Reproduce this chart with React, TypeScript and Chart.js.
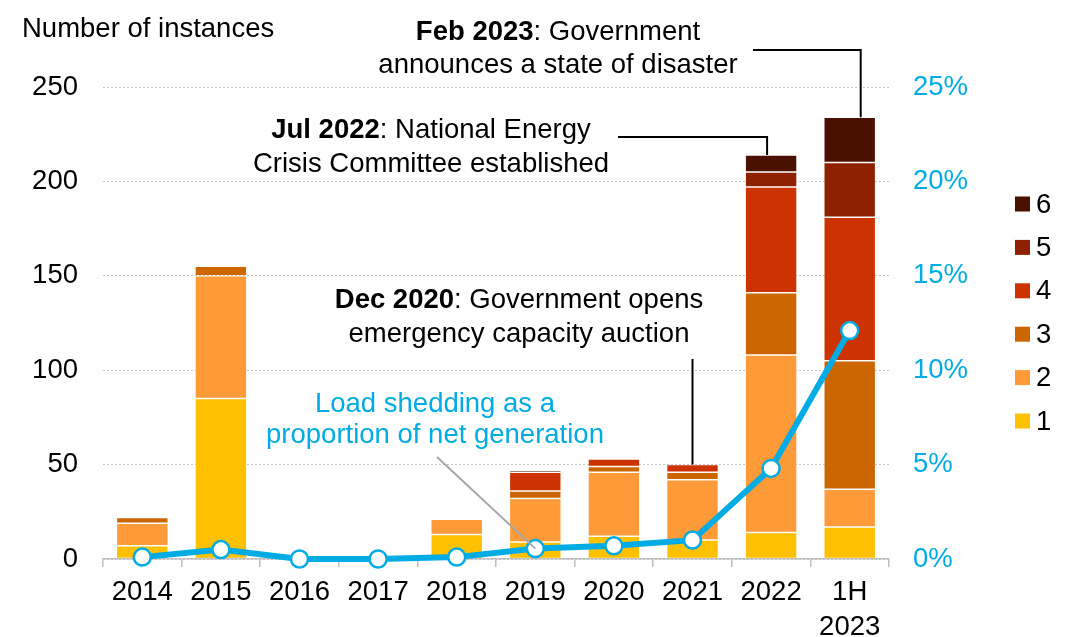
import React, { useEffect, useRef } from 'react';
import { Chart, registerables } from 'chart.js';

Chart.register(...registerables);

// ---- Data ----
const categories: (string | string[])[] = ['2014', '2015', '2016', '2017', '2018', '2019', '2020', '2021', '2022', ['1H', '2023']];
const stage1 = [7, 85, 0, 0, 13, 9, 12, 10, 14, 17];
const stage2 = [12, 65, 0, 0, 8, 23, 34, 32, 94, 20];
const stage3 = [3, 5, 0, 0, 0, 4, 3, 4, 33, 68];
const stage4 = [0, 0, 0, 0, 0, 10, 4, 4, 56, 76];
const stage5 = [0, 0, 0, 0, 0, 0, 0, 0, 8, 29];
const stage6 = [0, 0, 0, 0, 0, 1, 0, 0, 9, 24];
const stageLabels = ['1', '2', '3', '4', '5', '6'];
const loadSheddingPct = [0.1, 0.5, 0, 0, 0.1, 0.55, 0.7, 1.0, 4.8, 12.1];
const leftTicks = [0, 50, 100, 150, 200, 250];
const rightTicks = [0, 5, 10, 15, 20, 25];

const leftAxisTitle = 'Number of instances';
const noteFeb = { bold: 'Feb 2023', rest: ': Government', line2: 'announces a state of disaster' };
const noteJul = { bold: 'Jul 2022', rest: ': National Energy', line2: 'Crisis Committee established' };
const noteDec = { bold: 'Dec 2020', rest: ': Government opens', line2: 'emergency capacity auction' };
const noteLine = ['Load shedding as a', 'proportion of net generation'];

const stageColors = ['#FFC000', '#FE9A38', '#CC6600', '#CC3300', '#8E2200', '#4B1100'];
const CYAN = '#00ACE3';
const FONT_FAMILY = '"Liberation Sans", Arial, sans-serif';
const FS = 27.5;

const totals = categories.map((_, i) =>
  stage1[i] + stage2[i] + stage3[i] + stage4[i] + stage5[i] + stage6[i]
);

function drawMixed(ctx: CanvasRenderingContext2D, bold: string, rest: string, cx: number, by: number) {
  ctx.font = `bold ${FS}px ${FONT_FAMILY}`;
  const wb = ctx.measureText(bold).width;
  ctx.font = `${FS}px ${FONT_FAMILY}`;
  const wr = ctx.measureText(rest).width;
  const start = cx - (wb + wr) / 2;
  ctx.textAlign = 'left';
  ctx.font = `bold ${FS}px ${FONT_FAMILY}`;
  ctx.fillText(bold, start, by);
  ctx.font = `${FS}px ${FONT_FAMILY}`;
  ctx.fillText(rest, start + wb, by);
}

const overlayPlugin = {
  id: 'overlay',
  afterDraw(chart: any) {
    const ctx: CanvasRenderingContext2D = chart.ctx;
    const xs = chart.scales.x;
    const ys = chart.scales.y;
    const y1s = chart.scales.y1;
    ctx.save();
    ctx.fillStyle = '#000';
    ctx.textBaseline = 'alphabetic';

    // Left axis title
    ctx.font = `${FS}px ${FONT_FAMILY}`;
    ctx.textAlign = 'left';
    ctx.fillText(leftAxisTitle, 22, 37);

    // Annotations text
    drawMixed(ctx, noteFeb.bold, noteFeb.rest, 558, 40);
    ctx.textAlign = 'center';
    ctx.font = `${FS}px ${FONT_FAMILY}`;
    ctx.fillText(noteFeb.line2, 558, 73);

    drawMixed(ctx, noteJul.bold, noteJul.rest, 431, 138);
    ctx.textAlign = 'center';
    ctx.font = `${FS}px ${FONT_FAMILY}`;
    ctx.fillText(noteJul.line2, 431, 172);

    drawMixed(ctx, noteDec.bold, noteDec.rest, 519, 308);
    ctx.textAlign = 'center';
    ctx.font = `${FS}px ${FONT_FAMILY}`;
    ctx.fillText(noteDec.line2, 519, 342);

    ctx.fillStyle = CYAN;
    ctx.textAlign = 'center';
    ctx.fillText(noteLine[0], 435, 412);
    ctx.fillText(noteLine[1], 435, 443);

    // Leader lines
    ctx.strokeStyle = '#000';
    ctx.lineWidth = 2;
    ctx.beginPath();
    const xFeb = xs.getPixelForValue(9) + 11;
    ctx.moveTo(753, 50);
    ctx.lineTo(xFeb, 50);
    ctx.lineTo(xFeb, ys.getPixelForValue(totals[9]));
    ctx.stroke();

    ctx.beginPath();
    const xJul = xs.getPixelForValue(8) - 4;
    ctx.moveTo(618, 137);
    ctx.lineTo(xJul, 137);
    ctx.lineTo(xJul, ys.getPixelForValue(totals[8]));
    ctx.stroke();

    ctx.beginPath();
    const xDec = xs.getPixelForValue(7);
    ctx.moveTo(xDec, 359);
    ctx.lineTo(xDec, ys.getPixelForValue(totals[7]));
    ctx.stroke();

    ctx.strokeStyle = '#A6A6A6';
    ctx.beginPath();
    ctx.moveTo(437, 457);
    ctx.lineTo(xs.getPixelForValue(5), y1s.getPixelForValue(loadSheddingPct[5]));
    ctx.stroke();

    // Legend (reverse order)
    ctx.textAlign = 'left';
    ctx.textBaseline = 'middle';
    ctx.font = `${FS}px ${FONT_FAMILY}`;
    for (let k = 0; k < 6; k++) {
      const idx = 5 - k;
      const cy = 204 + k * 43.4;
      ctx.fillStyle = stageColors[idx];
      ctx.fillRect(1015, cy - 7.5, 15, 15);
      ctx.fillStyle = '#000';
      ctx.fillText(stageLabels[idx], 1036, cy + 1);
    }
    ctx.restore();
  },
};

export default function App() {
  const ref = useRef<HTMLCanvasElement | null>(null);

  useEffect(() => {
    document.body.style.margin = '0';
    if (!ref.current) return;
    const stages = [stage1, stage2, stage3, stage4, stage5, stage6];
    const barSets = stages.map((d, i) => ({
      type: 'bar' as const,
      label: stageLabels[i],
      data: d,
      backgroundColor: stageColors[i],
      borderColor: 'rgba(255,255,255,0.18)',
      borderWidth: (c: any) => (c.raw ? 0.75 : 0),
      borderSkipped: false as const,
      stack: 'a',
      yAxisID: 'y',
      barPercentage: 0.66,
      categoryPercentage: 1,
      order: 1,
    }));
    const chart = new Chart(ref.current, {
      type: 'bar',
      data: {
        labels: categories as any,
        datasets: [
          {
            type: 'line',
            label: 'Load shedding %',
            data: loadSheddingPct,
            yAxisID: 'y1',
            borderColor: CYAN,
            borderWidth: 6,
            pointRadius: 8.5,
            pointBackgroundColor: '#fff',
            pointBorderColor: CYAN,
            pointBorderWidth: 2.5,
            tension: 0,
            clip: false as any,
            order: 0,
          } as any,
          ...barSets,
        ],
      },
      options: {
        responsive: false,
        animation: false,
        layout: { padding: { top: 87, left: 0, right: 0, bottom: 0 } },
        plugins: { legend: { display: false }, tooltip: { enabled: false } },
        scales: {
          x: {
            stacked: true,
            offset: true,
            grid: {
              offset: true,
              drawOnChartArea: false,
              drawTicks: true,
              tickLength: 8,
              color: '#BFBFBF',
              lineWidth: 1.5,
            },
            border: { display: true, color: '#BFBFBF', width: 1.5 },
            ticks: {
              color: '#000',
              font: { family: FONT_FAMILY, size: FS, lineHeight: 1.27 },
              padding: 8,
              maxRotation: 0,
              autoSkip: false,
            },
            afterFit: (s: any) => {
              s.height = 78;
            },
          },
          y: {
            stacked: true,
            position: 'left',
            min: 0,
            max: 250,
            afterBuildTicks: (s: any) => {
              s.ticks = leftTicks.map((v) => ({ value: v }));
            },
            grid: { color: '#C4C4C4', lineWidth: 1, drawTicks: false },
            border: { display: false, dash: [2, 2] },
            ticks: {
              color: '#000',
              font: { family: FONT_FAMILY, size: FS },
              padding: 25,
            },
            afterFit: (s: any) => {
              s.width = 103;
            },
          },
          y1: {
            position: 'right',
            min: 0,
            max: 25,
            afterBuildTicks: (s: any) => {
              s.ticks = rightTicks.map((v) => ({ value: v }));
            },
            grid: { display: false, drawTicks: false },
            border: { display: false },
            ticks: {
              color: CYAN,
              font: { family: FONT_FAMILY, size: FS },
              padding: 24,
              callback: (v: any) => `${v}%`,
            },
            afterFit: (s: any) => {
              s.width = 1068 - 889;
            },
          },
        },
      },
      plugins: [overlayPlugin],
    });
    return () => chart.destroy();
  }, []);

  return (
    <div style={{ width: 1068, height: 637 }}>
      <canvas ref={ref} width={1068} height={637} style={{ display: 'block' }} />
    </div>
  );
}
